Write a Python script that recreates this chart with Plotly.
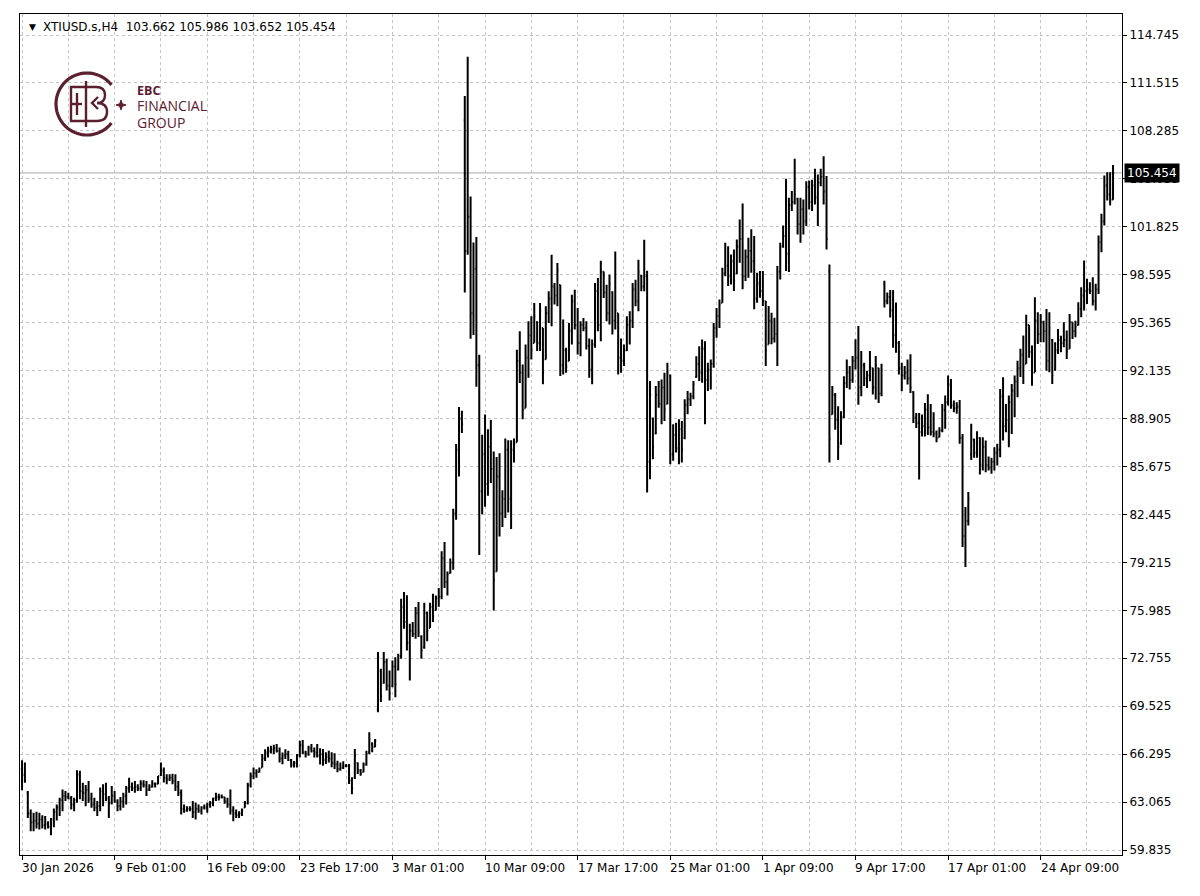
import plotly.graph_objects as go
import math

symbol = "XTIUSD.s,H4"

bar_high = [
65.89,65.73,63.81,62.57,62.34,62.41,62.34,62.18,62.12,61.78,
62.00,62.63,62.91,63.36,63.92,63.81,63.70,63.47,63.36,65.21,
65.17,64.37,64.22,64.49,63.70,63.36,63.13,64.04,64.26,64.37,
63.47,64.15,63.81,63.25,63.40,63.70,64.15,64.71,64.38,64.49,
64.26,64.53,64.53,64.49,64.26,64.53,64.38,64.83,65.73,65.39,
64.94,64.94,64.98,64.94,64.49,63.92,62.91,62.79,62.79,63.13,
63.02,62.91,62.79,62.91,63.02,63.13,63.36,63.70,63.63,63.58,
63.40,63.36,63.92,62.79,62.57,62.45,62.63,63.13,64.37,65.05,
65.39,65.28,65.39,66.30,66.63,66.79,66.86,66.93,66.97,66.75,
66.41,66.63,66.52,65.96,65.84,66.30,67.20,67.24,66.52,66.86,
66.97,66.75,66.97,66.70,66.64,66.42,66.53,66.42,66.35,65.85,
65.74,65.81,65.63,65.63,64.73,66.64,65.74,65.29,65.74,66.53,
67.77,67.09,67.32,73.17,72.05,73.17,72.72,71.93,72.61,72.83,
73.06,76.77,77.22,77.00,75.08,75.20,76.21,76.55,74.30,76.50,
75.90,76.50,77.10,76.98,77.48,79.97,80.59,78.60,79.47,82.83,
87.19,89.68,89.43,110.64,113.28,103.87,100.76,101.13,93.21,87.81,
89.18,88.18,88.81,86.69,86.32,86.56,84.07,87.56,87.44,87.44,
87.56,93.54,94.78,92.55,93.89,95.46,95.80,96.69,95.46,96.69,
95.01,96.47,97.48,99.94,98.03,99.38,97.92,95.57,93.67,95.35,
97.25,97.59,96.36,95.46,95.68,95.46,94.30,94.23,98.03,98.37,
99.54,98.82,97.92,98.60,97.48,100.16,96.00,94.30,93.90,95.80,
96.13,98.03,98.26,99.60,98.60,100.95,98.86,91.43,88.97,91.10,
91.43,91.54,91.99,92.66,91.88,88.52,88.63,88.86,88.74,90.20,
90.76,90.64,91.43,93.11,93.78,94.23,94.12,92.66,92.88,95.35,
96.36,96.93,99.07,100.75,100.52,99.96,100.30,100.97,102.32,103.40,
100.30,101.08,101.65,101.20,98.73,98.84,98.84,96.82,96.49,96.04,
95.70,99.18,100.75,101.91,105.06,103.78,104.23,106.40,103.78,103.78,
103.67,104.90,104.94,105.00,105.73,105.35,105.73,106.58,105.24,99.29,
91.09,90.63,89.73,89.39,91.76,92.89,92.44,93.12,94.24,95.14,
93.45,92.66,92.10,93.45,92.33,93.12,92.33,92.60,98.19,97.40,
97.56,97.56,96.72,94.13,92.66,92.44,92.89,93.23,90.74,89.28,
89.28,89.17,89.96,90.55,89.89,89.33,88.10,88.32,89.89,90.45,
91.80,91.57,90.12,90.00,90.16,87.87,82.94,83.95,88.55,87.54,
88.05,87.65,87.65,87.42,86.35,86.26,86.97,87.20,90.90,91.69,
89.89,90.45,91.24,91.80,92.80,93.60,94.50,95.90,95.20,93.82,
97.08,96.07,95.95,95.50,96.29,96.07,94.27,94.04,94.94,94.49,
95.39,94.83,95.95,95.39,95.50,96.74,97.75,99.55,98.32,98.09,
98.43,97.98,101.24,102.70,105.28,105.50,105.50,105.986]

bar_low = [
63.86,64.37,62.00,61.10,61.10,61.28,61.21,61.28,61.21,61.28,
60.83,61.37,61.82,62.12,62.45,63.13,63.25,62.57,62.45,63.02,
63.25,63.13,62.79,63.02,62.68,62.45,62.12,62.45,62.79,63.13,
62.00,62.91,63.02,62.45,62.50,62.68,62.91,63.70,63.81,63.70,
63.81,63.81,64.04,63.47,63.81,64.04,64.04,64.26,64.83,64.38,
64.26,64.49,64.26,63.81,63.47,62.23,62.34,62.41,62.45,62.00,
61.89,62.34,62.23,62.57,62.34,62.68,62.79,63.13,63.18,63.31,
62.95,62.68,62.23,61.78,62.00,62.00,62.12,62.68,62.91,64.04,
64.60,64.71,65.05,65.39,65.84,66.07,66.34,66.30,66.41,65.73,
65.62,65.96,65.84,65.39,65.39,65.39,66.07,66.30,66.07,66.18,
66.41,66.07,66.07,65.60,65.52,65.63,65.74,65.41,65.29,65.07,
65.18,65.29,65.41,64.28,63.60,64.62,64.96,64.84,65.07,65.52,
66.31,66.42,66.76,69.12,69.80,71.03,70.58,69.91,70.81,70.13,
71.93,72.72,74.75,73.28,71.26,74.19,74.07,74.19,72.72,73.40,
73.90,74.80,75.20,75.98,76.23,76.73,77.48,76.98,78.47,78.72,
82.08,85.00,87.93,97.40,99.94,94.28,94.53,91.05,79.72,82.46,
82.96,83.70,84.57,75.98,78.60,80.96,81.59,82.21,82.58,81.46,
85.94,87.31,91.30,88.86,89.64,91.65,92.89,94.01,93.45,93.45,
91.21,92.89,95.35,95.12,96.58,96.47,91.77,91.88,91.99,92.77,
93.90,94.90,93.22,93.11,94.79,93.56,91.65,91.21,93.67,94.79,
94.12,97.03,95.46,95.24,94.56,94.90,91.88,91.99,92.44,93.45,
93.90,95.01,96.47,96.13,97.48,97.48,83.93,84.82,86.17,87.85,
89.64,88.52,88.74,89.86,85.83,86.06,86.62,85.83,85.94,87.51,
89.19,89.75,90.20,91.65,91.43,91.32,88.52,90.76,90.87,92.33,
94.34,95.01,96.71,98.50,97.83,97.94,97.50,98.62,99.40,97.61,
98.17,98.39,98.73,96.26,96.71,97.05,96.49,92.45,93.91,93.91,
94.02,92.45,98.28,100.41,98.84,98.77,102.88,103.33,101.31,100.75,
101.31,101.87,102.99,102.88,103.33,101.87,104.56,103.33,100.30,85.94,
89.17,88.15,86.12,87.14,88.95,90.97,90.86,91.31,92.21,89.84,
90.41,91.09,90.97,91.42,90.52,90.18,89.96,90.40,96.38,96.61,
95.71,93.68,93.34,91.87,90.74,91.54,91.20,90.63,88.60,88.27,
84.80,87.70,87.70,87.80,87.76,87.65,87.31,87.65,87.99,88.21,
89.78,89.56,89.33,89.22,87.20,80.25,78.90,81.70,86.12,86.26,
86.26,85.13,85.41,85.29,85.41,85.18,85.41,85.74,86.30,87.42,
87.99,86.97,87.87,88.99,90.34,91.70,91.24,92.60,93.00,91.12,
92.02,93.93,94.04,94.04,92.13,92.02,91.24,92.13,93.26,93.37,
93.71,92.92,93.60,94.27,94.38,95.17,95.73,96.18,96.63,97.30,
96.52,96.18,97.30,100.11,101.91,103.59,103.26,103.652]

bar_open = [
65.30,64.90,63.70,62.30,61.70,61.80,61.60,61.90,61.50,61.60,
61.40,61.90,62.40,62.70,63.20,63.50,63.40,63.30,62.90,63.20,
64.90,63.80,63.70,63.90,63.30,62.90,62.70,62.80,63.80,63.60,
63.30,63.00,63.50,63.10,62.80,63.10,63.50,64.00,64.10,64.00,
64.10,64.00,64.30,64.20,63.90,64.10,64.30,64.30,64.90,65.20,
64.70,64.60,64.70,64.50,64.10,63.70,62.60,62.50,62.60,62.60,
62.40,62.60,62.50,62.70,62.70,62.90,63.00,63.30,63.40,63.40,
63.40,63.10,62.90,62.50,62.30,62.20,62.30,62.70,63.00,64.20,
64.80,65.00,65.10,65.40,66.00,66.40,66.50,66.60,66.70,66.50,
66.00,66.20,66.30,65.90,65.60,65.70,66.20,66.90,66.40,66.30,
66.70,66.50,66.40,66.20,66.30,65.90,66.10,66.00,65.70,65.60,
65.30,65.40,65.50,65.50,64.50,64.70,65.70,65.20,65.10,65.60,
66.40,67.00,66.80,69.30,71.90,71.10,72.50,70.90,70.90,72.20,
72.00,72.90,76.20,75.20,73.80,74.60,74.40,75.80,74.20,73.50,
75.80,74.80,76.20,76.00,76.80,76.90,79.50,77.90,78.50,79.20,
82.50,86.80,88.90,109.00,100.20,102.50,96.00,99.00,92.50,84.00,
86.50,84.50,87.00,85.50,78.60,85.00,82.50,83.50,86.80,83.50,
86.80,87.30,92.80,92.00,89.60,93.00,94.50,94.00,95.40,94.00,
95.00,92.90,96.00,97.00,97.80,97.20,97.90,92.50,93.50,92.80,
94.80,96.80,95.20,94.00,95.20,95.00,93.80,92.20,93.90,97.50,
95.20,98.80,97.40,96.00,97.40,95.50,96.00,93.00,92.80,93.50,
95.20,95.50,97.60,96.80,98.50,97.80,98.50,86.00,88.90,87.90,
90.50,89.90,91.00,89.90,91.80,86.50,87.80,86.90,88.20,87.60,
89.80,90.20,90.40,91.70,92.60,92.00,93.60,91.50,92.20,92.60,
95.00,95.80,96.70,98.70,99.20,98.50,99.50,98.70,100.50,101.00,
98.50,99.80,100.20,99.50,97.00,98.00,97.50,96.80,93.90,95.50,
94.30,94.60,98.80,100.50,101.20,100.00,103.30,103.50,103.70,102.00,
103.00,102.20,104.50,103.50,104.60,103.80,104.80,105.20,104.20,98.80,
89.20,90.50,88.80,87.20,89.00,91.30,92.00,91.50,92.80,93.00,
91.00,92.50,91.60,91.80,92.30,91.00,92.30,90.60,98.00,96.80,
97.10,96.20,94.50,94.00,92.30,91.80,92.00,91.60,90.70,89.00,
88.60,88.00,88.40,89.50,88.30,88.00,87.90,87.65,88.10,89.50,
90.00,91.20,89.80,89.60,89.70,87.60,81.00,82.00,86.50,87.50,
86.60,87.60,85.80,87.00,85.80,85.60,86.00,86.60,86.80,90.40,
88.40,88.80,90.00,90.80,91.40,92.30,93.20,92.60,95.20,93.40,
92.00,95.50,94.60,95.40,94.80,92.80,94.20,92.20,93.50,94.20,
94.00,94.20,93.60,95.40,94.80,95.20,96.30,97.20,97.50,97.60,
97.50,96.80,97.60,100.80,102.20,104.60,104.00,103.662]

bar_close = [
64.90,64.50,62.30,61.70,61.80,61.60,61.90,61.50,61.60,61.40,
61.90,62.40,62.70,63.20,63.50,63.40,63.30,62.90,63.20,64.90,
63.80,63.70,63.90,63.30,62.90,62.70,62.80,63.80,63.60,63.30,
63.00,63.50,63.10,62.80,63.10,63.50,64.00,64.10,64.00,64.10,
64.00,64.30,64.20,63.90,64.10,64.30,64.30,64.80,65.20,64.70,
64.60,64.70,64.50,64.10,63.70,62.60,62.50,62.60,62.60,62.40,
62.60,62.50,62.70,62.70,62.90,63.00,63.30,63.40,63.40,63.40,
63.10,62.90,62.50,62.30,62.20,62.30,62.50,63.00,64.20,64.80,
65.00,65.10,65.30,66.00,66.40,66.50,66.60,66.70,66.50,66.00,
66.20,66.30,65.90,65.60,65.70,66.20,66.90,66.40,66.30,66.70,
66.50,66.40,66.20,66.30,65.90,66.10,66.00,65.70,65.60,65.30,
65.40,65.50,65.50,64.50,64.00,66.20,65.20,65.00,65.60,66.30,
67.30,66.80,67.20,72.80,70.20,72.50,70.90,70.40,72.20,71.00,
72.90,76.20,75.20,73.80,74.60,74.40,75.80,74.50,73.30,75.80,
74.60,76.20,75.60,76.80,76.90,79.50,77.90,78.40,79.20,82.50,
86.80,88.90,88.50,100.20,102.50,96.00,99.00,92.50,84.00,86.50,
84.50,87.00,85.50,78.00,85.00,82.50,83.50,86.80,83.50,86.80,
87.20,92.80,92.00,89.50,93.00,94.50,93.50,95.80,94.00,96.20,
92.00,96.00,97.00,97.80,97.20,98.90,92.50,93.50,92.40,94.80,
96.80,95.20,94.00,95.20,95.00,93.80,92.20,93.90,97.50,95.20,
98.80,97.40,96.00,98.00,95.50,96.20,93.00,92.80,93.50,95.20,
95.50,97.60,96.80,98.80,97.80,98.50,86.00,90.50,87.00,90.50,
89.90,91.00,89.50,92.00,86.50,87.80,86.90,88.20,86.80,89.80,
90.20,90.40,91.20,92.60,92.00,93.60,91.50,92.20,92.60,95.00,
95.80,96.60,98.70,99.20,98.50,99.50,98.20,100.50,101.00,98.50,
99.80,100.20,99.50,97.00,98.00,97.50,96.80,93.50,95.50,94.30,
94.60,98.80,100.50,101.20,100.00,103.30,103.50,104.00,102.00,103.00,
102.20,104.50,103.50,104.60,103.80,104.80,105.20,104.20,101.00,87.50,
90.50,88.80,87.00,89.00,91.30,92.00,91.50,92.80,93.00,91.00,
92.50,91.60,91.80,92.40,91.00,92.50,90.60,92.20,96.80,97.10,
96.20,94.50,94.00,92.30,91.80,92.00,91.60,91.00,89.00,88.60,
88.00,88.40,89.50,88.30,88.00,87.90,87.60,88.10,89.50,90.00,
91.20,89.80,89.60,89.70,87.60,81.00,82.00,83.50,87.50,86.60,
87.60,85.80,87.00,85.80,85.60,86.00,86.60,86.80,90.40,88.40,
88.80,90.00,90.80,91.40,92.30,93.20,92.50,95.20,93.40,92.00,
95.50,94.60,95.40,94.80,92.80,95.00,91.80,93.50,94.20,94.00,
94.20,93.40,95.40,94.80,95.10,96.30,97.20,97.50,97.60,97.50,
96.80,97.60,100.80,102.20,104.60,104.00,103.66,105.454]

x_label_text = ["30 Jan 2026", "9 Feb 01:00", "16 Feb 09:00", "23 Feb 17:00",
                "3 Mar 01:00", "10 Mar 09:00", "17 Mar 17:00", "25 Mar 01:00",
                "1 Apr 09:00", "9 Apr 17:00", "17 Apr 01:00", "24 Apr 09:00"]
x_label_bar = [0, 32, 64, 96, 128, 160, 192, 224, 256, 288, 320, 352]
x_grid_bar = [0, 16, 32, 48, 64, 80, 96, 112, 128, 144, 160, 176, 192, 208,
              224, 240, 256, 272, 288, 304, 320, 336, 352, 368]
y_tick_values = [59.835, 63.065, 66.295, 69.525, 72.755, 75.985, 79.215, 82.445,
                 85.675, 88.905, 92.135, 95.365, 98.595, 101.825, 105.055,
                 108.285, 111.515, 114.745]
logo_lines = ["EBC", "FINANCIAL", "GROUP"]

n = len(bar_close)
lens = {len(bar_open), len(bar_high), len(bar_low), len(bar_close)}
if len(lens) != 1:
    raise SystemExit(f"length mismatch {len(bar_open)} {len(bar_high)} {len(bar_low)} {len(bar_close)}")
idx = list(range(n))

W, H = 1200, 896
ML, MR, MT, MB = 20, 78, 14, 41
PW, PH = W - ML - MR, H - MT - MB
FONT = "DejaVu Sans"
GRID = "#c4c4c4"
MAROON = "#5b2030"

fig = go.Figure(go.Ohlc(
    x=idx, open=bar_open, high=bar_high, low=bar_low, close=bar_close,
    increasing=dict(line=dict(color="black", width=2)),
    decreasing=dict(line=dict(color="black", width=2)),
    tickwidth=0.4, hoverinfo="skip", showlegend=False))

fig.update_layout(
    width=W, height=H,
    margin=dict(l=ML, r=MR, t=MT, b=MB, pad=0),
    paper_bgcolor="white", plot_bgcolor="white",
    font=dict(family=FONT, size=12, color="black"),
    showlegend=False,
)
fig.update_xaxes(
    range=[-0.7, 380.1], rangeslider_visible=False,
    tickmode="array", tickvals=x_label_bar, showticklabels=False,
    ticks="outside", ticklen=4, tickcolor="black",
    showgrid=True, gridcolor=GRID, griddash="3px,3px", gridwidth=1,
    minor=dict(tickmode="array", tickvals=x_grid_bar, showgrid=True,
               gridcolor=GRID, griddash="3px,3px", ticks=""),
    showline=True, linecolor="black", linewidth=1, mirror=True, zeroline=False)
fig.update_yaxes(
    side="right", range=[59.50, 116.16],
    tickmode="array", tickvals=y_tick_values,
    ticktext=[f"{v:.3f}" for v in y_tick_values],
    ticks="outside", ticklen=4, tickcolor="black",
    tickfont=dict(family=FONT, size=12, color="black"),
    showgrid=True, gridcolor=GRID, griddash="3px,3px", gridwidth=1,
    showline=True, linecolor="black", linewidth=1, mirror=True, zeroline=False)

# current price line and label
fig.add_shape(type="line", xref="paper", yref="y", x0=0, x1=1,
              y0=bar_close[-1], y1=bar_close[-1],
              line=dict(color="#a8a8a8", width=1), layer="between")
annotations = []
annotations.append(dict(x=1, xref="paper", y=bar_close[-1], yref="y",
                        xanchor="left", yanchor="middle", xshift=2,
                        text=f"{bar_close[-1]:.3f}", showarrow=False,
                        bgcolor="black", borderpad=2,
                        font=dict(family=FONT, size=12, color="white")))

# date labels, left-aligned at their bar
for b, t in zip(x_label_bar, x_label_text):
    annotations.append(dict(x=b, xref="x", y=0, yref="paper", xanchor="left",
                            yanchor="top", yshift=-4, xshift=-2, text=t,
                            showarrow=False,
                            font=dict(family=FONT, size=12, color="black")))

def px(x):
    return (x - ML) / PW

def py(y):
    return (H - MB - y) / PH

def P(x, y):
    return f"{px(x):.5f},{py(y):.5f}"

# header
annotations.append(dict(x=px(32), xref="paper", y=py(27), yref="paper",
                        xanchor="center", yanchor="middle", text="▼",
                        showarrow=False, font=dict(family=FONT, size=9, color="black")))
annotations.append(dict(x=px(41), xref="paper", y=py(27), yref="paper",
                        xanchor="left", yanchor="middle",
                        text=f"{symbol}  {bar_open[-1]:.3f} {bar_high[-1]:.3f} {bar_low[-1]:.3f} {bar_close[-1]:.3f}",
                        showarrow=False, font=dict(family=FONT, size=12, color="black")))

# logo text (one block, three lines)
annotations.append(dict(x=px(135), xref="paper", y=py(107), yref="paper",
                        xanchor="left", yanchor="middle", align="left",
                        text=f"<b>{logo_lines[0]}</b><br>"
                             f"<span style='font-size:14px'>{logo_lines[1]}</span><br>"
                             f"<span style='font-size:14px'>{logo_lines[2]}</span>",
                        showarrow=False,
                        font=dict(family="Open Sans", size=12.5, color=MAROON)))
fig.update_layout(annotations=annotations)

# logo graphic
cx, cy, r = 87, 104, 31
pts = []
for k in range(0, 61):
    a = math.radians(38 + k * (284 / 60))
    pts.append(P(cx + r * math.cos(a), cy - r * math.sin(a)))
arc = "M " + " L ".join(pts)
fig.add_shape(type="path", xref="paper", yref="paper", path=arc,
              line=dict(color=MAROON, width=3.2))
sx, sy = 121, 105
star = (f"M {P(sx, sy-5)} L {P(sx+1.3, sy-1.3)} L {P(sx+5, sy)} L {P(sx+1.3, sy+1.3)} "
        f"L {P(sx, sy+5)} L {P(sx-1.3, sy+1.3)} L {P(sx-5, sy)} L {P(sx-1.3, sy-1.3)} Z")
fig.add_shape(type="path", xref="paper", yref="paper", path=star,
              line=dict(color=MAROON, width=1), fillcolor=MAROON)
mono = [
    f"M {P(86,87)} L {P(71,87)} L {P(71,121)} L {P(86,121)}",
    f"M {P(71,104)} L {P(82,104)}",
    f"M {P(77,93)} L {P(77,115)}",
    f"M {P(86,81)} L {P(86,127)}",
    f"M {P(86,87)} L {P(96,87)} Q {P(105,87)} {P(105,95)} Q {P(105,103)} {P(97,103)}",
    f"M {P(86,121)} L {P(97,121)} Q {P(107,121)} {P(107,112)} Q {P(107,103)} {P(97,103)}",
    f"M {P(98,97)} L {P(92,103)} L {P(98,109)}",
]
for d in mono:
    fig.add_shape(type="path", xref="paper", yref="paper", path=d,
                  line=dict(color=MAROON, width=2.4))

fig.write_html("out.html", config={"displayModeBar": False},
               post_script="document.body.style.margin='0';document.body.style.overflow='hidden';")
